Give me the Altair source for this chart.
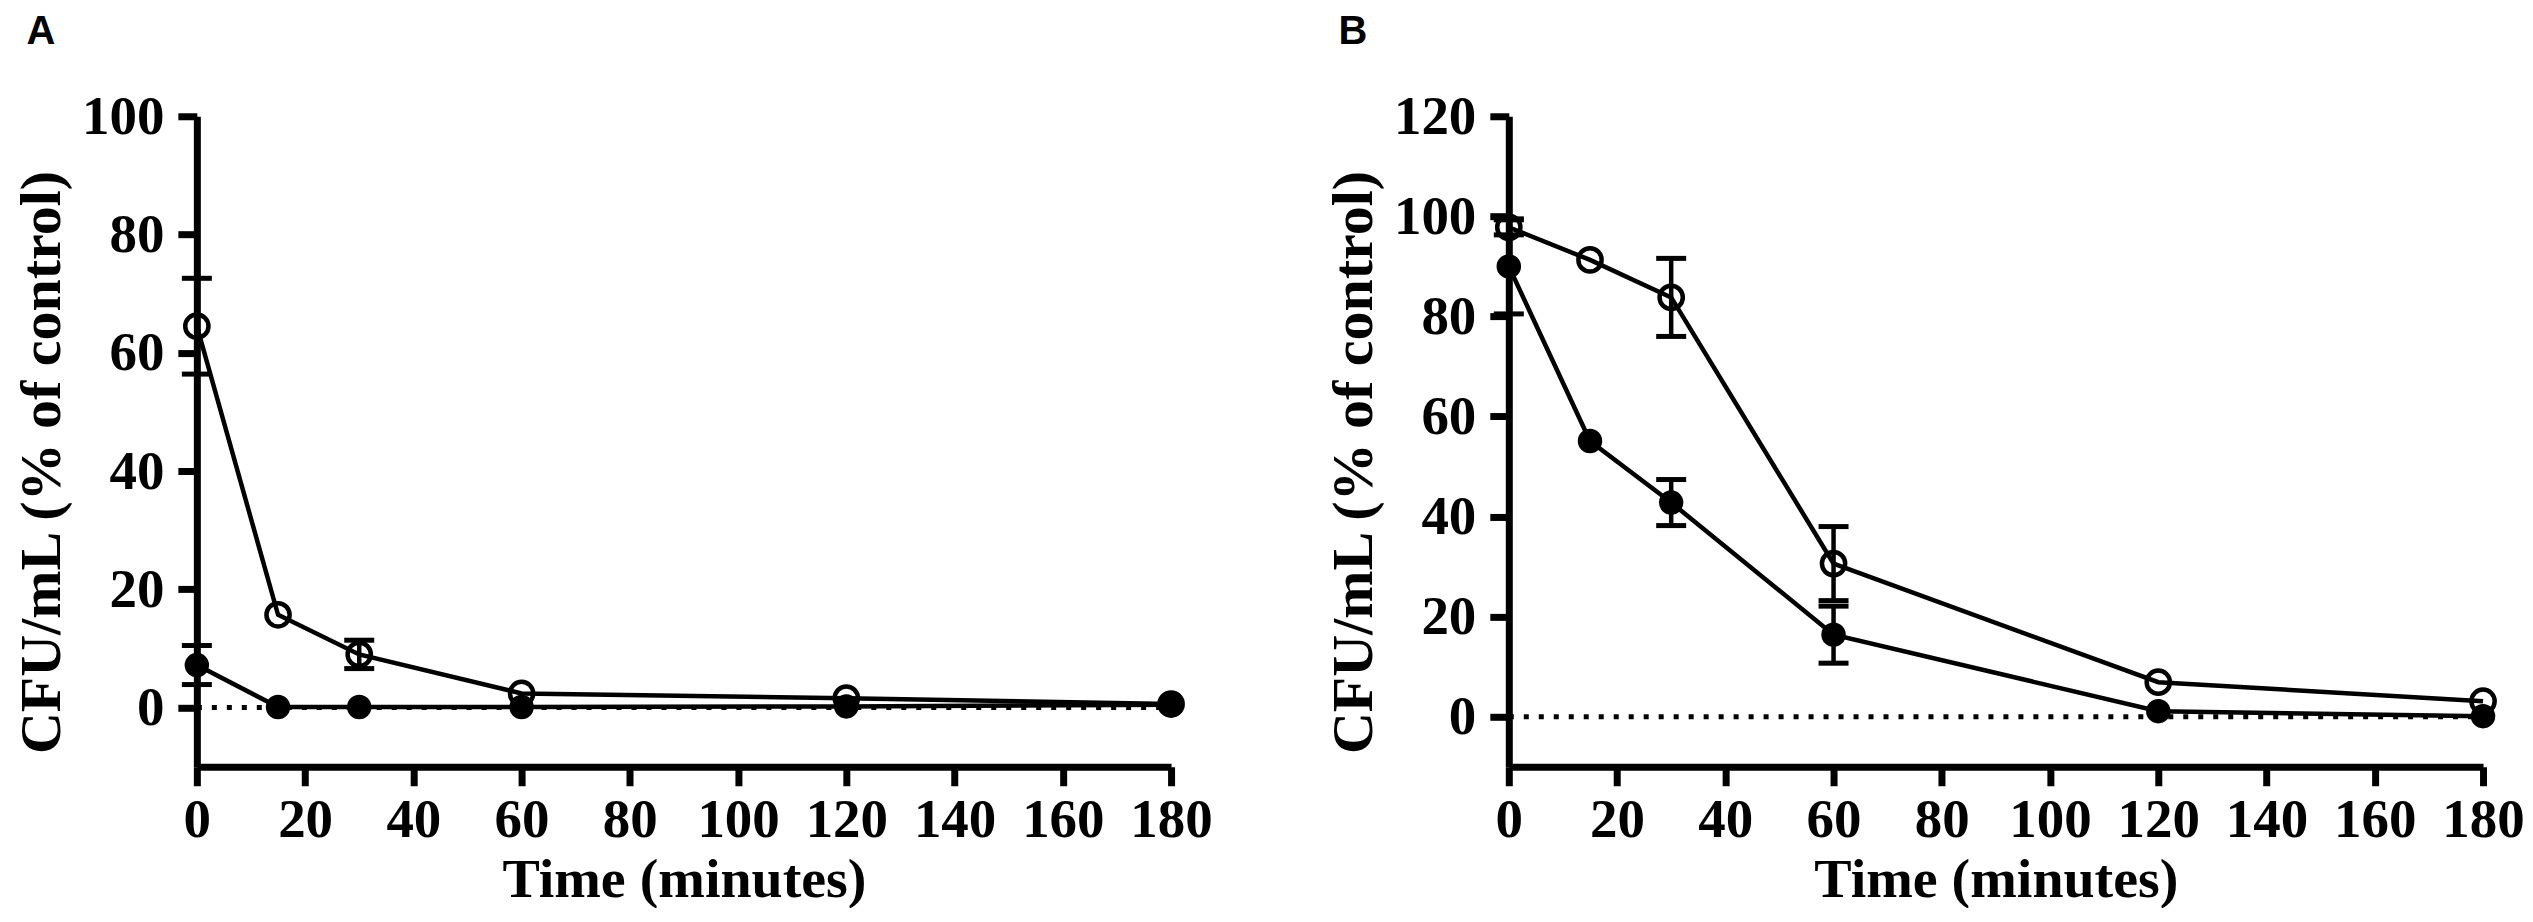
import altair as alt
import pandas as pd

# ---- data ----
times = [0, 15, 30, 60, 120, 180]
x_ticks = [0, 20, 40, 60, 80, 100, 120, 140, 160, 180]

# Panel A
a_open_mean = [64.5, 15.7, 9.0, 2.4, 1.6, 0.6]
a_open_err = [8.1, 0.0, 2.4, 0.0, 0.0, 0.0]
a_filled_mean = [7.2, 0.1, 0.1, 0.1, 0.2, 0.5]
a_filled_err = [3.3, 0.0, 0.0, 0.0, 0.0, 0.0]
a_y_ticks = [0, 20, 40, 60, 80, 100]
a_y_domain = [-10, 100]

# Panel B
b_open_mean = [97.8, 91.3, 83.8, 30.6, 6.9, 3.1]
b_open_err = [1.5, 0.0, 7.8, 7.4, 0.0, 0.0]
b_filled_mean = [90.0, 55.1, 42.8, 16.4, 1.1, 0.1]
b_filled_err = [9.5, 0.0, 4.6, 5.7, 0.0, 0.0]
b_y_ticks = [0, 20, 40, 60, 80, 100, 120]
b_y_domain = [-10, 120]

x_title = "Time (minutes)"
y_title = "CFU/mL (% of control)"


def frame(means, errs):
    df = pd.DataFrame({"t": times, "m": means, "e": errs})
    df["lo"] = df["m"] - df["e"]
    df["hi"] = df["m"] + df["e"]
    return df


def panel(open_m, open_e, filled_m, filled_e, y_ticks, y_domain, letter):
    d_open = frame(open_m, open_e)
    d_filled = frame(filled_m, filled_e)
    d_err = pd.concat([d_open, d_filled])
    d_err = d_err[d_err["e"] > 0]

    xs = alt.Scale(domain=[0, 180], nice=False)
    ys = alt.Scale(domain=y_domain, nice=False)
    xaxis = alt.Axis(values=x_ticks, title=x_title, labelFlush=False,
                     labelOverlap=False)
    yaxis = alt.Axis(values=y_ticks, title=y_title, titleY=346,
                     labelOverlap=False)

    def X():
        return alt.X("t:Q", scale=xs, axis=xaxis)

    def Y(field):
        return alt.Y(f"{field}:Q", scale=ys, axis=yaxis)

    zero = alt.Chart(pd.DataFrame({"t": [0], "m": [0]})).mark_rule(
        color="black", strokeWidth=5, strokeDash=[5, 10]
    ).encode(x=X(), x2=alt.datum(180), y=Y("m"))

    err_rule = alt.Chart(d_err).mark_rule(
        color="black", strokeWidth=4.5, opacity=1
    ).encode(x=X(), y=Y("lo"), y2="hi:Q")
    cap_hi = alt.Chart(d_err).mark_tick(
        orient="horizontal", color="black", thickness=5, size=30, opacity=1
    ).encode(x=X(), y=Y("hi"))
    cap_lo = alt.Chart(d_err).mark_tick(
        orient="horizontal", color="black", thickness=5, size=30, opacity=1
    ).encode(x=X(), y=Y("lo"))

    line_open = alt.Chart(d_open).mark_line(color="black", strokeWidth=4.5).encode(
        x=X(), y=Y("m")
    )
    line_filled = alt.Chart(d_filled).mark_line(color="black", strokeWidth=4.5).encode(
        x=X(), y=Y("m")
    )
    pts_open = alt.Chart(d_open).mark_point(
        shape="circle", filled=False, stroke="black", strokeWidth=4.5,
        size=540, opacity=1
    ).encode(x=X(), y=Y("m"))
    pts_filled = alt.Chart(d_filled).mark_point(
        shape="circle", filled=True, color="black", size=600, opacity=1
    ).encode(x=X(), y=Y("m"))

    return alt.layer(
        zero, err_rule, cap_hi, cap_lo, line_open, line_filled, pts_open, pts_filled
    ).properties(width=975, height=651, title=alt.Title(letter))


chart_a = panel(a_open_mean, a_open_err, a_filled_mean, a_filled_err,
                a_y_ticks, a_y_domain, "A")
chart_b = panel(b_open_mean, b_open_err, b_filled_mean, b_filled_err,
                b_y_ticks, b_y_domain, "B")

chart = alt.hconcat(chart_a, chart_b, spacing=112).properties(
    padding={"left": 5, "top": 4, "right": 0, "bottom": 0},
    background="white",
).configure_axis(
    domainColor="black", domainWidth=7, tickColor="black", tickWidth=7,
    tickSize=19, labelFont="Liberation Serif", labelFontSize=55,
    labelFontWeight="bold", labelColor="black", titleFont="Liberation Serif",
    titleFontWeight="bold", titleColor="black", grid=False,
).configure_axisX(
    labelPadding=8, titleFontSize=56, titlePadding=5,
).configure_axisY(
    labelPadding=14, titleFontSize=58, titlePadding=10,
).configure_title(
    font="Liberation Sans", fontSize=40, fontWeight="bold", anchor="start",
    frame="bounds", offset=37, dx=13, color="black",
).configure_view(strokeWidth=0)

chart.save("out.html", embed_options={"renderer": "svg", "actions": False})
